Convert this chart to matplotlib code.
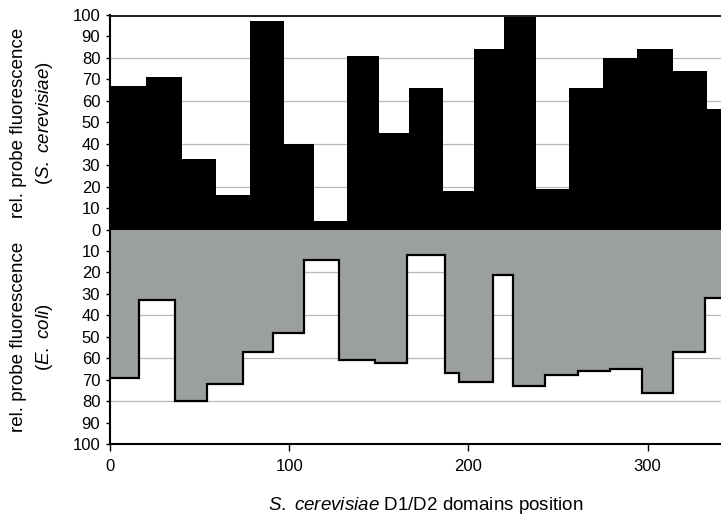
import numpy as np
import matplotlib
matplotlib.use("Agg")
import matplotlib.pyplot as plt

plt.rcParams['font.family'] = ['Liberation Sans', 'DejaVu Sans']
plt.rcParams['mathtext.fontset'] = 'custom'
plt.rcParams['mathtext.rm'] = 'Liberation Sans'
plt.rcParams['mathtext.it'] = 'Liberation Sans:italic'

# Probe segments along the S. cerevisiae D1/D2 domains (start positions + last end)
yeast_edges = [0, 20, 40, 59, 78, 97, 114, 132, 150, 167, 186, 203, 220, 238,
               256, 275, 294, 314, 333, 352]
yeast_signal = [67, 71, 33, 16, 97, 40, 4, 81, 45, 66, 18, 84, 100, 19,
                66, 80, 84, 74, 56]

ecoli_edges = [0, 16, 36, 54, 74, 91, 108, 128, 148, 166, 187, 195, 214, 225,
               243, 261, 279, 297, 314, 332, 352]
ecoli_signal = [69, 33, 80, 72, 57, 48, 14, 61, 62, 12, 67, 71, 21, 73,
                68, 66, 65, 76, 57, 32]

x_ticks = [0, 100, 200, 300]
y_ticks = list(range(-100, 101, 10))

fig = plt.figure(figsize=(7.21, 5.17), dpi=100)
ax = fig.add_axes([0.1526, 0.141, 0.8474, 0.830])

# grid lines every 20 units in both halves
for g in [-80, -60, -40, -20, 20, 40, 60, 80]:
    ax.axhline(g, color='#b8b8b8', lw=0.9, zorder=0)

# upper half: S. cerevisiae signal as black filled steps
ax.stairs(yeast_signal, yeast_edges, baseline=0, fill=True,
          color='black', zorder=2)

# lower half: E. coli signal hanging down from zero
neg = -np.asarray(ecoli_signal)
ax.stairs(neg, ecoli_edges, baseline=0, fill=True, color='#9b9f9d', zorder=1)
ax.stairs(neg, ecoli_edges, baseline=None, color='black', lw=1.6, zorder=3)

ax.axhline(100, color='#222222', lw=2.2, zorder=4)

ax.set_xlim(0, 341)
ax.set_ylim(-100, 100)

ax.set_yticks(y_ticks)
ax.set_yticklabels([str(abs(t)) for t in y_ticks], fontsize=12)
ax.set_xticks(x_ticks)
ax.set_xticklabels([str(t) for t in x_ticks], fontsize=12)

ax.tick_params(axis='y', direction='out', length=3, width=1, pad=4)
ax.tick_params(axis='x', direction='out', length=5, width=1, pad=6)

for side in ['top', 'right']:
    ax.spines[side].set_visible(False)
ax.spines['left'].set_linewidth(1.5)
ax.spines['bottom'].set_linewidth(1.5)

ax.set_xlabel(r'$\it{S.}$ $\it{cerevisiae}$ D1/D2 domains position',
              fontsize=13.5)
ax.xaxis.set_label_coords(0.517, -0.118)

fig.text(0.026, 0.762, 'rel. probe fluorescence', rotation=90,
         ha='center', va='center', fontsize=13.5)
fig.text(0.062, 0.762, r'($\it{S.}$ $\it{cerevisiae}$)', rotation=90,
         ha='center', va='center', fontsize=13.5)
fig.text(0.026, 0.348, 'rel. probe fluorescence', rotation=90,
         ha='center', va='center', fontsize=13.5)
fig.text(0.062, 0.348, r'($\it{E.}$ $\it{coli}$)', rotation=90,
         ha='center', va='center', fontsize=13.5)

fig.savefig('out.png', dpi=100)
